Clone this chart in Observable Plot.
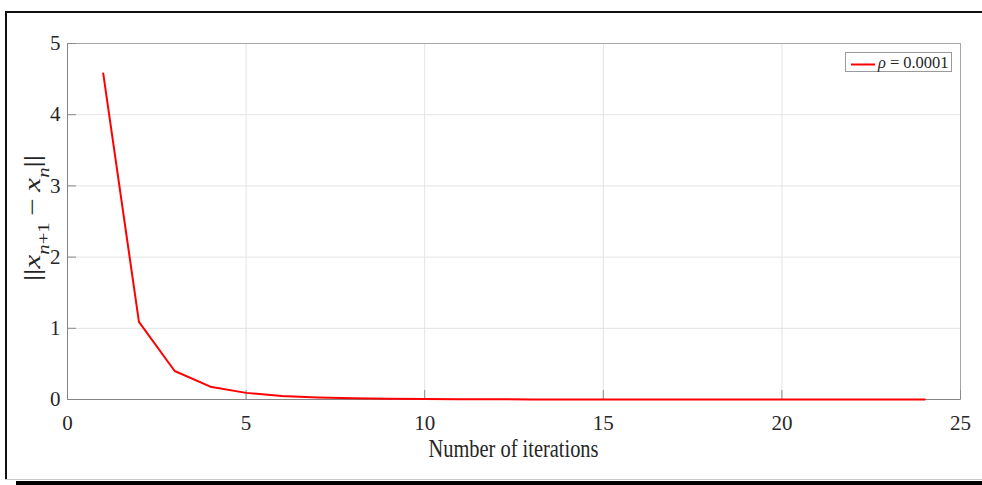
<!DOCTYPE html>
<html>
<head>
<meta charset="utf-8">
<script src="https://cdn.jsdelivr.net/npm/d3@7"></script>
<script src="https://cdn.jsdelivr.net/npm/@observablehq/plot@0.6"></script>
<style>
  html, body { margin: 0; padding: 0; background: #fff; }
  #wrap { position: relative; width: 982px; height: 485px; overflow: hidden; background: #fff; }
  #wrap svg { position: absolute; left: 0; top: 0; }
  #wrap svg text { font-family: 'Liberation Serif', 'Times New Roman', serif !important; }
  .bd { position: absolute; }
</style>
</head>
<body>
<div id="wrap">
  <div class="bd" style="left:5px;top:11px;width:2px;height:469px;background:#111;"></div>
  <div class="bd" style="left:5px;top:11px;width:977px;height:2px;background:#111;"></div>
  <div class="bd" style="left:5px;top:479px;width:977px;height:1px;background:#c8c8c8;"></div>
  <div class="bd" style="left:16px;top:481px;width:966px;height:4px;background:#000;"></div>
</div>
<script>
// ---- data ----
const iterations = [1, 2, 3, 4, 5, 6, 7, 8, 9, 10, 11, 12, 13, 14, 15, 16, 17, 18, 19, 20, 21, 22, 23, 24];
const residuals  = [4.58, 1.09, 0.40, 0.18, 0.093, 0.048, 0.028, 0.016, 0.010, 0.0062, 0.0040, 0.0026,
                    0.0017, 0.0011, 0.0007, 0.00045, 0.0003, 0.0002, 0.00013, 0.00009, 0.00006, 0.00004, 0.00003, 0.00002];
const xTicks = [0, 5, 10, 15, 20, 25];
const yTicks = [0, 1, 2, 3, 4, 5];
const xLabel = "Number of iterations";
const seriesName = "0.0001";

const rows = iterations.map((n, i) => ({n, r: residuals[i]}));

const FONT = "'Liberation Serif', 'Times New Roman', serif";
const W = 982, H = 485, ML = 67, MR = 22, MT = 43, MB = 86;
const innerW = W - ML - MR, innerH = H - MT - MB;

const chart = Plot.plot({
  width: W, height: H,
  marginLeft: ML, marginRight: MR, marginTop: MT, marginBottom: MB,
  style: {fontFamily: FONT, fontSize: "21px", color: "#262626", background: "transparent", overflow: "visible"},
  x: {domain: [0, 25]},
  y: {domain: [0, 5]},
  marks: [
    Plot.gridX({ticks: xTicks, stroke: "#e3e3e3", strokeOpacity: 1}),
    Plot.gridY({ticks: yTicks, stroke: "#e3e3e3", strokeOpacity: 1}),
    Plot.frame({stroke: "#a6a6a6"}),
    Plot.ruleX(xTicks, {x: d => d, stroke: "#8a8a8a", insetTop: innerH - 9}),
    Plot.ruleY(yTicks, {y: d => d, stroke: "#8a8a8a", insetRight: innerW - 9}),
    Plot.ruleX([0], {stroke: "#858585"}),
    Plot.ruleY([0], {stroke: "#858585"}),
    Plot.axisX({ticks: xTicks, tickSize: 0, tickPadding: 16, label: null, tickFormat: d => String(d), fontSize: 21}),
    Plot.axisY({ticks: yTicks, tickSize: 0, tickPadding: 7, label: null, tickFormat: d => String(d), fontSize: 21}),
    Plot.line(rows, {x: "n", y: "r", stroke: "#ff0000", strokeWidth: 2})
  ]
});
document.getElementById("wrap").appendChild(chart);

const svg = d3.select(chart);
svg.selectAll("g[aria-label$='tick label']").attr("fill", "#262626");

// x-axis label
svg.append("text")
  .attr("x", ML + innerW / 2).attr("y", 457)
  .attr("text-anchor", "middle")
  .attr("font-size", 25).attr("fill", "#262626")
  .attr("textLength", 170).attr("lengthAdjust", "spacingAndGlyphs")
  .text(xLabel);

// y-axis label ||x_{n+1} - x_n||
const yl = svg.append("text")
  .attr("transform", `translate(40,${MT + innerH / 2 - 3}) rotate(-90) scale(1.3,1)`)
  .attr("text-anchor", "middle")
  .attr("font-size", 24).attr("fill", "#262626");
yl.append("tspan").text("||");
yl.append("tspan").attr("font-style", "italic").text("x");
const s1 = yl.append("tspan").attr("font-size", 16).attr("baseline-shift", "sub");
s1.append("tspan").attr("font-style", "italic").text("n");
s1.append("tspan").text("+1");
yl.append("tspan").attr("dx", 5).text("−");
yl.append("tspan").attr("dx", 5).attr("font-style", "italic").text("x");
yl.append("tspan").attr("font-size", 16).attr("baseline-shift", "sub").attr("font-style", "italic").text("n");
yl.append("tspan").text("||");

// legend box
const lg = svg.append("g");
lg.append("rect").attr("x", 845.5).attr("y", 52.5).attr("width", 106).attr("height", 19)
  .attr("fill", "#fff").attr("stroke", "#9a9a9a");
lg.append("line").attr("x1", 851).attr("x2", 875).attr("y1", 64.5).attr("y2", 64.5)
  .attr("stroke", "#ff0000").attr("stroke-width", 2);
const lt = lg.append("text").attr("x", 878).attr("y", 67.5)
  .attr("text-anchor", "start")
  .attr("font-size", 16.5).attr("fill", "#262626");
lt.append("tspan").attr("font-style", "italic").text("ρ");
lt.append("tspan").attr("dx", 4).text("=");
lt.append("tspan").attr("dx", 4).text(seriesName);
</script>
</body>
</html>
